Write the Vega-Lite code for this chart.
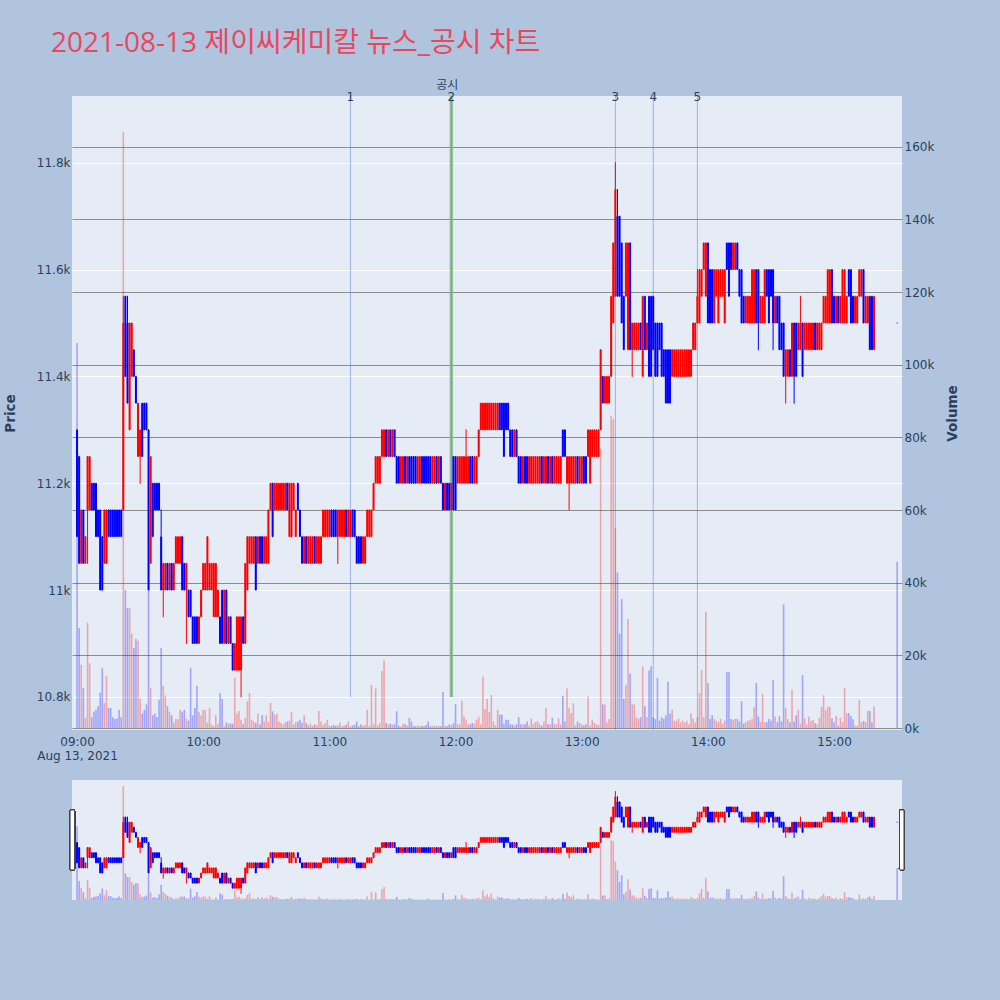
{
"$schema":"https://vega.github.io/schema/vega-lite/v6.json",
"background":"#B0C4DE",
"padding":{"left":3,"top":30,"right":45,"bottom":100},
"title":{"text":"2021-08-13 제이씨케미칼 뉴스_공시 차트","anchor":"start","frame":"group","font":"Open Sans, Noto Sans CJK KR","fontSize":28,"fontWeight":"normal","color":"#E8485E","offset":21,"dx":-21},
"config":{"view":{"fill":"#E5ECF6","stroke":null},"axis":{"labelFont":"DejaVu Sans","labelFontSize":12,"labelColor":"#2a3f5f","titleFont":"DejaVu Sans","titleFontSize":13.5,"titleFontWeight":"bold","titleColor":"#2a3f5f","domain":false,"ticks":false}},
"data":{"format":{"parse":{"t":"date:'%H:%M'"}},"values":[
{"t":"09:00","o":11300,"h":11300,"l":11100,"c":11100,"v":106000},
{"t":"09:01","o":11250,"h":11250,"l":11050,"c":11050,"v":27500},
{"t":"09:02","o":11050,"h":11150,"l":11050,"c":11150,"v":17400},
{"t":"09:03","o":11150,"h":11150,"l":11050,"c":11050,"v":11000},
{"t":"09:04","o":11050,"h":11100,"l":11050,"c":11100,"v":2800},
{"t":"09:05","o":11150,"h":11250,"l":11050,"c":11250,"v":29000},
{"t":"09:06","o":11150,"h":11250,"l":11150,"c":11250,"v":17800},
{"t":"09:07","o":11200,"h":11200,"l":11150,"c":11150,"v":3000},
{"t":"09:08","o":11200,"h":11200,"l":11150,"c":11150,"v":4500},
{"t":"09:09","o":11200,"h":11200,"l":11100,"c":11100,"v":5000},
{"t":"09:10","o":11150,"h":11150,"l":11100,"c":11100,"v":6000},
{"t":"09:11","o":11150,"h":11150,"l":11000,"c":11000,"v":9700},
{"t":"09:12","o":11100,"h":11100,"l":11000,"c":11000,"v":16500},
{"t":"09:13","o":11050,"h":11150,"l":11050,"c":11150,"v":6900},
{"t":"09:14","o":11050,"h":11150,"l":11050,"c":11150,"v":14300},
{"t":"09:15","o":11150,"h":11150,"l":11100,"c":11100,"v":5500},
{"t":"09:16","o":11150,"h":11150,"l":11100,"c":11100,"v":5500},
{"t":"09:17","o":11150,"h":11150,"l":11100,"c":11100,"v":3000},
{"t":"09:18","o":11150,"h":11150,"l":11100,"c":11100,"v":2500},
{"t":"09:19","o":11150,"h":11150,"l":11100,"c":11100,"v":2700},
{"t":"09:20","o":11150,"h":11150,"l":11100,"c":11100,"v":5000},
{"t":"09:21","o":11150,"h":11150,"l":11100,"c":11100,"v":3000},
{"t":"09:22","o":11150,"h":11550,"l":11150,"c":11500,"v":164000},
{"t":"09:23","o":11550,"h":11550,"l":11400,"c":11400,"v":38000},
{"t":"09:24","o":11500,"h":11550,"l":11350,"c":11350,"v":33000},
{"t":"09:25","o":11300,"h":11500,"l":11300,"c":11500,"v":33000},
{"t":"09:26","o":11400,"h":11500,"l":11400,"c":11500,"v":26000},
{"t":"09:27","o":11450,"h":11450,"l":11400,"c":11400,"v":22000},
{"t":"09:28","o":11400,"h":11400,"l":11350,"c":11350,"v":24500},
{"t":"09:29","o":11250,"h":11350,"l":11250,"c":11350,"v":24000},
{"t":"09:30","o":11250,"h":11300,"l":11200,"c":11300,"v":8000},
{"t":"09:31","o":11350,"h":11350,"l":11250,"c":11250,"v":4000},
{"t":"09:32","o":11350,"h":11350,"l":11300,"c":11300,"v":5000},
{"t":"09:33","o":11350,"h":11350,"l":11300,"c":11300,"v":6500},
{"t":"09:34","o":11300,"h":11300,"l":11000,"c":11000,"v":38000},
{"t":"09:35","o":11050,"h":11250,"l":11050,"c":11250,"v":11000},
{"t":"09:36","o":11200,"h":11200,"l":11100,"c":11100,"v":3500},
{"t":"09:37","o":11200,"h":11200,"l":11150,"c":11150,"v":4000},
{"t":"09:38","o":11200,"h":11200,"l":11150,"c":11150,"v":3000},
{"t":"09:39","o":11200,"h":11200,"l":11150,"c":11150,"v":7800},
{"t":"09:40","o":11100,"h":11150,"l":11000,"c":11000,"v":22000},
{"t":"09:41","o":11000,"h":11050,"l":10950,"c":11050,"v":11600},
{"t":"09:42","o":11000,"h":11050,"l":11000,"c":11050,"v":9000},
{"t":"09:43","o":11050,"h":11050,"l":11000,"c":11000,"v":6000},
{"t":"09:44","o":11000,"h":11050,"l":11000,"c":11050,"v":4500},
{"t":"09:45","o":11050,"h":11050,"l":11000,"c":11000,"v":3500},
{"t":"09:46","o":11000,"h":11050,"l":11000,"c":11050,"v":1500},
{"t":"09:47","o":11050,"h":11100,"l":11050,"c":11100,"v":2500},
{"t":"09:48","o":11050,"h":11100,"l":11050,"c":11100,"v":2500},
{"t":"09:49","o":11050,"h":11100,"l":11050,"c":11100,"v":5000},
{"t":"09:50","o":11100,"h":11100,"l":11000,"c":11000,"v":4500},
{"t":"09:51","o":11050,"h":11050,"l":11000,"c":11000,"v":5000},
{"t":"09:52","o":11000,"h":11050,"l":10900,"c":11050,"v":2500},
{"t":"09:53","o":11000,"h":11000,"l":10950,"c":10950,"v":2000},
{"t":"09:54","o":11000,"h":11000,"l":10950,"c":10950,"v":16500},
{"t":"09:55","o":10950,"h":10950,"l":10900,"c":10900,"v":3500},
{"t":"09:56","o":10950,"h":10950,"l":10900,"c":10900,"v":5500},
{"t":"09:57","o":10950,"h":10950,"l":10900,"c":10900,"v":11600},
{"t":"09:58","o":10900,"h":10950,"l":10900,"c":10950,"v":4500},
{"t":"09:59","o":10950,"h":11000,"l":10950,"c":11000,"v":3500},
{"t":"10:00","o":11000,"h":11050,"l":11000,"c":11050,"v":5000},
{"t":"10:01","o":11000,"h":11050,"l":11000,"c":11050,"v":5000},
{"t":"10:02","o":11000,"h":11100,"l":11000,"c":11100,"v":1500},
{"t":"10:03","o":11000,"h":11050,"l":11000,"c":11050,"v":5500},
{"t":"10:04","o":11000,"h":11050,"l":11000,"c":11050,"v":1000},
{"t":"10:05","o":10950,"h":11050,"l":10950,"c":11050,"v":500},
{"t":"10:06","o":10950,"h":11050,"l":10950,"c":11050,"v":3500},
{"t":"10:07","o":10950,"h":11000,"l":10950,"c":11000,"v":1000},
{"t":"10:08","o":10950,"h":10950,"l":10900,"c":10900,"v":9600},
{"t":"10:09","o":11000,"h":11000,"l":10900,"c":10900,"v":8000},
{"t":"10:10","o":10900,"h":11000,"l":10900,"c":11000,"v":500},
{"t":"10:11","o":11000,"h":11000,"l":10900,"c":10900,"v":1500},
{"t":"10:12","o":10900,"h":10950,"l":10900,"c":10950,"v":1200},
{"t":"10:13","o":10950,"h":10950,"l":10900,"c":10900,"v":1200},
{"t":"10:14","o":10900,"h":10900,"l":10850,"c":10850,"v":1200},
{"t":"10:15","o":10850,"h":10900,"l":10850,"c":10900,"v":13800},
{"t":"10:16","o":10850,"h":10950,"l":10850,"c":10950,"v":4000},
{"t":"10:17","o":10850,"h":10950,"l":10850,"c":10950,"v":4700},
{"t":"10:18","o":10850,"h":10950,"l":10800,"c":10950,"v":2300},
{"t":"10:19","o":10950,"h":10950,"l":10900,"c":10900,"v":1000},
{"t":"10:20","o":10900,"h":11050,"l":10900,"c":11050,"v":2800},
{"t":"10:21","o":11000,"h":11100,"l":11000,"c":11100,"v":7300},
{"t":"10:22","o":11050,"h":11100,"l":11050,"c":11100,"v":9600},
{"t":"10:23","o":11050,"h":11100,"l":11050,"c":11100,"v":2300},
{"t":"10:24","o":11050,"h":11100,"l":11050,"c":11100,"v":1800},
{"t":"10:25","o":11100,"h":11100,"l":11000,"c":11000,"v":1400},
{"t":"10:26","o":11050,"h":11100,"l":11050,"c":11100,"v":3900},
{"t":"10:27","o":11100,"h":11100,"l":11050,"c":11050,"v":1000},
{"t":"10:28","o":11100,"h":11100,"l":11050,"c":11050,"v":3500},
{"t":"10:29","o":11050,"h":11100,"l":11050,"c":11100,"v":1800},
{"t":"10:30","o":11050,"h":11100,"l":11050,"c":11100,"v":3500},
{"t":"10:31","o":11050,"h":11150,"l":11050,"c":11150,"v":1600},
{"t":"10:32","o":11150,"h":11200,"l":11150,"c":11200,"v":6900},
{"t":"10:33","o":11200,"h":11200,"l":11100,"c":11100,"v":4600},
{"t":"10:34","o":11150,"h":11200,"l":11150,"c":11200,"v":3700},
{"t":"10:35","o":11150,"h":11200,"l":11150,"c":11200,"v":3900},
{"t":"10:36","o":11150,"h":11200,"l":11150,"c":11200,"v":1800},
{"t":"10:37","o":11150,"h":11200,"l":11150,"c":11200,"v":1400},
{"t":"10:38","o":11150,"h":11200,"l":11150,"c":11200,"v":1000},
{"t":"10:39","o":11150,"h":11200,"l":11150,"c":11200,"v":1600},
{"t":"10:40","o":11200,"h":11200,"l":11150,"c":11150,"v":1800},
{"t":"10:41","o":11100,"h":11200,"l":11100,"c":11200,"v":2000},
{"t":"10:42","o":11100,"h":11200,"l":11100,"c":11200,"v":4400},
{"t":"10:43","o":11150,"h":11200,"l":11150,"c":11200,"v":1000},
{"t":"10:44","o":11100,"h":11150,"l":11100,"c":11150,"v":1600},
{"t":"10:45","o":11200,"h":11200,"l":11150,"c":11150,"v":1800},
{"t":"10:46","o":11150,"h":11150,"l":11100,"c":11100,"v":2300},
{"t":"10:47","o":11100,"h":11100,"l":11050,"c":11050,"v":1400},
{"t":"10:48","o":11050,"h":11100,"l":11050,"c":11100,"v":3500},
{"t":"10:49","o":11100,"h":11100,"l":11050,"c":11050,"v":1400},
{"t":"10:50","o":11050,"h":11100,"l":11050,"c":11100,"v":800},
{"t":"10:51","o":11050,"h":11100,"l":11050,"c":11100,"v":1200},
{"t":"10:52","o":11050,"h":11100,"l":11050,"c":11100,"v":600},
{"t":"10:53","o":11100,"h":11100,"l":11050,"c":11050,"v":1000},
{"t":"10:54","o":11050,"h":11100,"l":11050,"c":11100,"v":700},
{"t":"10:55","o":11050,"h":11100,"l":11050,"c":11100,"v":4700},
{"t":"10:56","o":11050,"h":11100,"l":11050,"c":11100,"v":1800},
{"t":"10:57","o":11100,"h":11150,"l":11100,"c":11150,"v":900},
{"t":"10:58","o":11100,"h":11150,"l":11100,"c":11150,"v":1300},
{"t":"10:59","o":11100,"h":11150,"l":11100,"c":11150,"v":2300},
{"t":"11:00","o":11100,"h":11150,"l":11100,"c":11150,"v":700},
{"t":"11:01","o":11150,"h":11150,"l":11100,"c":11100,"v":500},
{"t":"11:02","o":11150,"h":11150,"l":11100,"c":11100,"v":900},
{"t":"11:03","o":11150,"h":11150,"l":11100,"c":11100,"v":600},
{"t":"11:04","o":11100,"h":11150,"l":11050,"c":11150,"v":800},
{"t":"11:05","o":11100,"h":11150,"l":11100,"c":11150,"v":1500},
{"t":"11:06","o":11100,"h":11150,"l":11100,"c":11150,"v":500},
{"t":"11:07","o":11100,"h":11150,"l":11100,"c":11150,"v":700},
{"t":"11:08","o":11150,"h":11150,"l":11100,"c":11100,"v":900},
{"t":"11:09","o":11100,"h":11150,"l":11100,"c":11150,"v":1800},
{"t":"11:10","o":11100,"h":11150,"l":11100,"c":11150,"v":500},
{"t":"11:11","o":11150,"h":11150,"l":11100,"c":11100,"v":700},
{"t":"11:12","o":11150,"h":11150,"l":11100,"c":11100,"v":900},
{"t":"11:13","o":11100,"h":11100,"l":11050,"c":11050,"v":1800},
{"t":"11:14","o":11100,"h":11100,"l":11050,"c":11050,"v":500},
{"t":"11:15","o":11100,"h":11100,"l":11050,"c":11050,"v":1000},
{"t":"11:16","o":11050,"h":11100,"l":11050,"c":11100,"v":600},
{"t":"11:17","o":11050,"h":11100,"l":11050,"c":11100,"v":800},
{"t":"11:18","o":11100,"h":11150,"l":11100,"c":11150,"v":5000},
{"t":"11:19","o":11100,"h":11150,"l":11100,"c":11150,"v":600},
{"t":"11:20","o":11100,"h":11150,"l":11100,"c":11150,"v":11800},
{"t":"11:21","o":11150,"h":11200,"l":11150,"c":11200,"v":1000},
{"t":"11:22","o":11200,"h":11250,"l":11200,"c":11250,"v":10900},
{"t":"11:23","o":11200,"h":11250,"l":11200,"c":11250,"v":700},
{"t":"11:24","o":11200,"h":11250,"l":11200,"c":11250,"v":1300},
{"t":"11:25","o":11250,"h":11300,"l":11250,"c":11300,"v":15700},
{"t":"11:26","o":11250,"h":11300,"l":11250,"c":11300,"v":18600},
{"t":"11:27","o":11300,"h":11300,"l":11250,"c":11250,"v":1400},
{"t":"11:28","o":11250,"h":11300,"l":11250,"c":11300,"v":1000},
{"t":"11:29","o":11300,"h":11300,"l":11250,"c":11250,"v":1200},
{"t":"11:30","o":11250,"h":11300,"l":11250,"c":11300,"v":1000},
{"t":"11:31","o":11300,"h":11300,"l":11250,"c":11250,"v":1000},
{"t":"11:32","o":11250,"h":11250,"l":11200,"c":11200,"v":4600},
{"t":"11:33","o":11250,"h":11250,"l":11200,"c":11200,"v":600},
{"t":"11:34","o":11200,"h":11250,"l":11200,"c":11250,"v":500},
{"t":"11:35","o":11200,"h":11250,"l":11200,"c":11250,"v":1200},
{"t":"11:36","o":11250,"h":11250,"l":11200,"c":11200,"v":1000},
{"t":"11:37","o":11200,"h":11250,"l":11200,"c":11250,"v":700},
{"t":"11:38","o":11250,"h":11250,"l":11200,"c":11200,"v":2800},
{"t":"11:39","o":11250,"h":11250,"l":11200,"c":11200,"v":1800},
{"t":"11:40","o":11250,"h":11250,"l":11200,"c":11200,"v":600},
{"t":"11:41","o":11250,"h":11250,"l":11200,"c":11200,"v":500},
{"t":"11:42","o":11200,"h":11250,"l":11200,"c":11250,"v":700},
{"t":"11:43","o":11200,"h":11250,"l":11200,"c":11250,"v":500},
{"t":"11:44","o":11250,"h":11250,"l":11200,"c":11200,"v":600},
{"t":"11:45","o":11250,"h":11250,"l":11200,"c":11200,"v":500},
{"t":"11:46","o":11250,"h":11250,"l":11200,"c":11200,"v":800},
{"t":"11:47","o":11250,"h":11250,"l":11200,"c":11200,"v":1800},
{"t":"11:48","o":11250,"h":11250,"l":11200,"c":11200,"v":500},
{"t":"11:49","o":11200,"h":11250,"l":11200,"c":11250,"v":600},
{"t":"11:50","o":11200,"h":11250,"l":11200,"c":11250,"v":700},
{"t":"11:51","o":11250,"h":11250,"l":11200,"c":11200,"v":500},
{"t":"11:52","o":11200,"h":11250,"l":11200,"c":11250,"v":600},
{"t":"11:53","o":11250,"h":11250,"l":11200,"c":11200,"v":500},
{"t":"11:54","o":11200,"h":11200,"l":11150,"c":11150,"v":9900},
{"t":"11:55","o":11150,"h":11200,"l":11150,"c":11200,"v":600},
{"t":"11:56","o":11200,"h":11200,"l":11150,"c":11150,"v":500},
{"t":"11:57","o":11200,"h":11200,"l":11150,"c":11150,"v":1000},
{"t":"11:58","o":11150,"h":11200,"l":11150,"c":11200,"v":800},
{"t":"11:59","o":11250,"h":11250,"l":11150,"c":11150,"v":1400},
{"t":"12:00","o":11250,"h":11250,"l":11150,"c":11150,"v":6600},
{"t":"12:01","o":11200,"h":11250,"l":11200,"c":11250,"v":1000},
{"t":"12:02","o":11200,"h":11250,"l":11200,"c":11250,"v":1000},
{"t":"12:03","o":11200,"h":11250,"l":11200,"c":11250,"v":7500},
{"t":"12:04","o":11200,"h":11250,"l":11200,"c":11250,"v":3200},
{"t":"12:05","o":11200,"h":11300,"l":11200,"c":11250,"v":2300},
{"t":"12:06","o":11200,"h":11250,"l":11200,"c":11250,"v":1000},
{"t":"12:07","o":11250,"h":11250,"l":11200,"c":11200,"v":1000},
{"t":"12:08","o":11250,"h":11250,"l":11200,"c":11200,"v":1400},
{"t":"12:09","o":11200,"h":11250,"l":11200,"c":11250,"v":1100},
{"t":"12:10","o":11200,"h":11250,"l":11200,"c":11250,"v":2300},
{"t":"12:11","o":11250,"h":11300,"l":11250,"c":11300,"v":3100},
{"t":"12:12","o":11300,"h":11350,"l":11300,"c":11350,"v":1000},
{"t":"12:13","o":11300,"h":11350,"l":11300,"c":11350,"v":14200},
{"t":"12:14","o":11300,"h":11350,"l":11300,"c":11350,"v":5200},
{"t":"12:15","o":11300,"h":11350,"l":11300,"c":11350,"v":8000},
{"t":"12:16","o":11300,"h":11350,"l":11300,"c":11350,"v":4500},
{"t":"12:17","o":11300,"h":11350,"l":11300,"c":11350,"v":9100},
{"t":"12:18","o":11300,"h":11350,"l":11300,"c":11350,"v":1800},
{"t":"12:19","o":11300,"h":11350,"l":11300,"c":11350,"v":800},
{"t":"12:20","o":11300,"h":11350,"l":11300,"c":11350,"v":5000},
{"t":"12:21","o":11350,"h":11350,"l":11300,"c":11300,"v":3700},
{"t":"12:22","o":11350,"h":11350,"l":11300,"c":11300,"v":3700},
{"t":"12:23","o":11350,"h":11350,"l":11250,"c":11250,"v":1200},
{"t":"12:24","o":11350,"h":11350,"l":11300,"c":11300,"v":2300},
{"t":"12:25","o":11350,"h":11350,"l":11300,"c":11300,"v":2300},
{"t":"12:26","o":11300,"h":11300,"l":11250,"c":11250,"v":1000},
{"t":"12:27","o":11300,"h":11300,"l":11250,"c":11250,"v":1000},
{"t":"12:28","o":11250,"h":11300,"l":11250,"c":11300,"v":700},
{"t":"12:29","o":11300,"h":11300,"l":11250,"c":11250,"v":1000},
{"t":"12:30","o":11250,"h":11250,"l":11200,"c":11200,"v":3000},
{"t":"12:31","o":11250,"h":11250,"l":11200,"c":11200,"v":1000},
{"t":"12:32","o":11200,"h":11250,"l":11200,"c":11250,"v":1000},
{"t":"12:33","o":11250,"h":11250,"l":11200,"c":11200,"v":1000},
{"t":"12:34","o":11250,"h":11250,"l":11200,"c":11200,"v":1800},
{"t":"12:35","o":11200,"h":11250,"l":11200,"c":11250,"v":700},
{"t":"12:36","o":11200,"h":11250,"l":11200,"c":11250,"v":2600},
{"t":"12:37","o":11200,"h":11250,"l":11200,"c":11250,"v":1100},
{"t":"12:38","o":11200,"h":11250,"l":11200,"c":11250,"v":1600},
{"t":"12:39","o":11200,"h":11250,"l":11200,"c":11250,"v":1800},
{"t":"12:40","o":11200,"h":11250,"l":11200,"c":11250,"v":1000},
{"t":"12:41","o":11250,"h":11250,"l":11200,"c":11200,"v":600},
{"t":"12:42","o":11200,"h":11250,"l":11200,"c":11250,"v":1800},
{"t":"12:43","o":11200,"h":11250,"l":11200,"c":11250,"v":5500},
{"t":"12:44","o":11250,"h":11250,"l":11200,"c":11200,"v":1000},
{"t":"12:45","o":11200,"h":11250,"l":11200,"c":11250,"v":1000},
{"t":"12:46","o":11250,"h":11250,"l":11200,"c":11200,"v":2800},
{"t":"12:47","o":11200,"h":11250,"l":11200,"c":11250,"v":1000},
{"t":"12:48","o":11200,"h":11250,"l":11200,"c":11250,"v":1000},
{"t":"12:49","o":11200,"h":11250,"l":11200,"c":11250,"v":2600},
{"t":"12:50","o":11200,"h":11250,"l":11200,"c":11250,"v":1000},
{"t":"12:51","o":11300,"h":11300,"l":11250,"c":11250,"v":8800},
{"t":"12:52","o":11300,"h":11300,"l":11250,"c":11250,"v":1800},
{"t":"12:53","o":11200,"h":11250,"l":11200,"c":11250,"v":10900},
{"t":"12:54","o":11200,"h":11250,"l":11150,"c":11250,"v":5600},
{"t":"12:55","o":11200,"h":11250,"l":11200,"c":11250,"v":4100},
{"t":"12:56","o":11200,"h":11250,"l":11200,"c":11250,"v":6800},
{"t":"12:57","o":11200,"h":11250,"l":11200,"c":11250,"v":700},
{"t":"12:58","o":11250,"h":11250,"l":11200,"c":11200,"v":1800},
{"t":"12:59","o":11200,"h":11250,"l":11200,"c":11250,"v":1400},
{"t":"13:00","o":11200,"h":11250,"l":11200,"c":11250,"v":1000},
{"t":"13:01","o":11250,"h":11250,"l":11200,"c":11200,"v":700},
{"t":"13:02","o":11250,"h":11250,"l":11200,"c":11200,"v":1000},
{"t":"13:03","o":11250,"h":11300,"l":11250,"c":11300,"v":8700},
{"t":"13:04","o":11200,"h":11300,"l":11200,"c":11300,"v":600},
{"t":"13:05","o":11250,"h":11300,"l":11250,"c":11300,"v":2300},
{"t":"13:06","o":11250,"h":11300,"l":11250,"c":11300,"v":1400},
{"t":"13:07","o":11250,"h":11300,"l":11250,"c":11300,"v":1000},
{"t":"13:08","o":11250,"h":11300,"l":11250,"c":11300,"v":800},
{"t":"13:09","o":11300,"h":11450,"l":11300,"c":11450,"v":77000},
{"t":"13:10","o":11400,"h":11400,"l":11350,"c":11350,"v":6500},
{"t":"13:11","o":11350,"h":11400,"l":11350,"c":11400,"v":6500},
{"t":"13:12","o":11350,"h":11400,"l":11350,"c":11400,"v":1600},
{"t":"13:13","o":11350,"h":11400,"l":11350,"c":11400,"v":2500},
{"t":"13:14","o":11400,"h":11550,"l":11400,"c":11550,"v":86000},
{"t":"13:15","o":11500,"h":11650,"l":11500,"c":11650,"v":85000},
{"t":"13:16","o":11550,"h":11800,"l":11550,"c":11750,"v":55000},
{"t":"13:17","o":11700,"h":11750,"l":11550,"c":11550,"v":42800},
{"t":"13:18","o":11700,"h":11700,"l":11550,"c":11550,"v":26000},
{"t":"13:19","o":11650,"h":11650,"l":11500,"c":11500,"v":35500},
{"t":"13:20","o":11550,"h":11550,"l":11450,"c":11450,"v":8000},
{"t":"13:21","o":11550,"h":11650,"l":11550,"c":11650,"v":11800},
{"t":"13:22","o":11450,"h":11650,"l":11450,"c":11650,"v":30000},
{"t":"13:23","o":11650,"h":11650,"l":11450,"c":11450,"v":15000},
{"t":"13:24","o":11450,"h":11500,"l":11400,"c":11500,"v":6500},
{"t":"13:25","o":11450,"h":11500,"l":11450,"c":11500,"v":6500},
{"t":"13:26","o":11450,"h":11500,"l":11450,"c":11500,"v":3000},
{"t":"13:27","o":11450,"h":11500,"l":11450,"c":11500,"v":2500},
{"t":"13:28","o":11500,"h":11500,"l":11450,"c":11450,"v":3000},
{"t":"13:29","o":11400,"h":11550,"l":11400,"c":11550,"v":17000},
{"t":"13:30","o":11550,"h":11550,"l":11450,"c":11450,"v":6000},
{"t":"13:31","o":11450,"h":11500,"l":11450,"c":11500,"v":3000},
{"t":"13:32","o":11550,"h":11550,"l":11400,"c":11400,"v":15800},
{"t":"13:33","o":11550,"h":11550,"l":11400,"c":11400,"v":17000},
{"t":"13:34","o":11550,"h":11550,"l":11450,"c":11450,"v":3000},
{"t":"13:35","o":11500,"h":11500,"l":11400,"c":11400,"v":2500},
{"t":"13:36","o":11500,"h":11500,"l":11400,"c":11400,"v":13800},
{"t":"13:37","o":11500,"h":11500,"l":11450,"c":11450,"v":2000},
{"t":"13:38","o":11500,"h":11500,"l":11400,"c":11400,"v":3000},
{"t":"13:39","o":11450,"h":11450,"l":11400,"c":11400,"v":2500},
{"t":"13:40","o":11450,"h":11450,"l":11350,"c":11350,"v":3500},
{"t":"13:41","o":11450,"h":11450,"l":11350,"c":11350,"v":12700},
{"t":"13:42","o":11450,"h":11450,"l":11350,"c":11350,"v":4000},
{"t":"13:43","o":11400,"h":11450,"l":11400,"c":11450,"v":5000},
{"t":"13:44","o":11400,"h":11450,"l":11400,"c":11450,"v":2000},
{"t":"13:45","o":11400,"h":11450,"l":11400,"c":11450,"v":2000},
{"t":"13:46","o":11400,"h":11450,"l":11400,"c":11450,"v":2500},
{"t":"13:47","o":11400,"h":11450,"l":11400,"c":11450,"v":1500},
{"t":"13:48","o":11400,"h":11450,"l":11400,"c":11450,"v":2000},
{"t":"13:49","o":11400,"h":11450,"l":11400,"c":11450,"v":1500},
{"t":"13:50","o":11400,"h":11450,"l":11400,"c":11450,"v":2000},
{"t":"13:51","o":11400,"h":11450,"l":11400,"c":11450,"v":1000},
{"t":"13:52","o":11400,"h":11450,"l":11400,"c":11450,"v":4000},
{"t":"13:53","o":11450,"h":11500,"l":11450,"c":11500,"v":2500},
{"t":"13:54","o":11450,"h":11500,"l":11450,"c":11500,"v":1500},
{"t":"13:55","o":11500,"h":11600,"l":11500,"c":11550,"v":3000},
{"t":"13:56","o":11500,"h":11600,"l":11500,"c":11600,"v":9600},
{"t":"13:57","o":11550,"h":11600,"l":11550,"c":11600,"v":16000},
{"t":"13:58","o":11600,"h":11650,"l":11600,"c":11650,"v":3000},
{"t":"13:59","o":11550,"h":11650,"l":11550,"c":11650,"v":32000},
{"t":"14:00","o":11650,"h":11650,"l":11500,"c":11500,"v":12400},
{"t":"14:01","o":11600,"h":11600,"l":11500,"c":11500,"v":2500},
{"t":"14:02","o":11600,"h":11600,"l":11500,"c":11500,"v":3500},
{"t":"14:03","o":11500,"h":11600,"l":11500,"c":11600,"v":2500},
{"t":"14:04","o":11550,"h":11600,"l":11550,"c":11600,"v":2000},
{"t":"14:05","o":11500,"h":11600,"l":11500,"c":11600,"v":1700},
{"t":"14:06","o":11550,"h":11600,"l":11550,"c":11600,"v":2500},
{"t":"14:07","o":11550,"h":11600,"l":11550,"c":11600,"v":1200},
{"t":"14:08","o":11500,"h":11600,"l":11500,"c":11600,"v":2100},
{"t":"14:09","o":11650,"h":11650,"l":11600,"c":11600,"v":15500},
{"t":"14:10","o":11650,"h":11650,"l":11550,"c":11550,"v":15500},
{"t":"14:11","o":11650,"h":11650,"l":11600,"c":11600,"v":2500},
{"t":"14:12","o":11600,"h":11650,"l":11600,"c":11650,"v":2300},
{"t":"14:13","o":11600,"h":11650,"l":11600,"c":11650,"v":2500},
{"t":"14:14","o":11650,"h":11650,"l":11600,"c":11600,"v":2500},
{"t":"14:15","o":11600,"h":11600,"l":11550,"c":11550,"v":1800},
{"t":"14:16","o":11600,"h":11600,"l":11500,"c":11500,"v":7400},
{"t":"14:17","o":11550,"h":11550,"l":11500,"c":11500,"v":1200},
{"t":"14:18","o":11500,"h":11550,"l":11500,"c":11550,"v":1600},
{"t":"14:19","o":11500,"h":11550,"l":11500,"c":11550,"v":2000},
{"t":"14:20","o":11500,"h":11550,"l":11500,"c":11550,"v":2100},
{"t":"14:21","o":11500,"h":11600,"l":11500,"c":11600,"v":2500},
{"t":"14:22","o":11500,"h":11600,"l":11500,"c":11600,"v":5700},
{"t":"14:23","o":11600,"h":11600,"l":11500,"c":11500,"v":12400},
{"t":"14:24","o":11600,"h":11600,"l":11450,"c":11500,"v":3200},
{"t":"14:25","o":11500,"h":11550,"l":11500,"c":11550,"v":1600},
{"t":"14:26","o":11500,"h":11550,"l":11500,"c":11550,"v":9400},
{"t":"14:27","o":11500,"h":11600,"l":11500,"c":11600,"v":1600},
{"t":"14:28","o":11600,"h":11600,"l":11550,"c":11550,"v":1600},
{"t":"14:29","o":11600,"h":11600,"l":11500,"c":11500,"v":2500},
{"t":"14:30","o":11600,"h":11600,"l":11550,"c":11550,"v":2000},
{"t":"14:31","o":11600,"h":11600,"l":11450,"c":11500,"v":13200},
{"t":"14:32","o":11500,"h":11550,"l":11500,"c":11550,"v":3200},
{"t":"14:33","o":11550,"h":11550,"l":11500,"c":11500,"v":1600},
{"t":"14:34","o":11550,"h":11550,"l":11450,"c":11450,"v":3200},
{"t":"14:35","o":11500,"h":11500,"l":11450,"c":11450,"v":1800},
{"t":"14:36","o":11500,"h":11500,"l":11400,"c":11400,"v":34000},
{"t":"14:37","o":11400,"h":11450,"l":11350,"c":11450,"v":5500},
{"t":"14:38","o":11400,"h":11450,"l":11400,"c":11450,"v":2500},
{"t":"14:39","o":11450,"h":11450,"l":11400,"c":11400,"v":1600},
{"t":"14:40","o":11400,"h":11500,"l":11400,"c":11500,"v":10500},
{"t":"14:41","o":11500,"h":11500,"l":11350,"c":11400,"v":1800},
{"t":"14:42","o":11500,"h":11500,"l":11400,"c":11400,"v":3500},
{"t":"14:43","o":11450,"h":11500,"l":11450,"c":11500,"v":5000},
{"t":"14:44","o":11450,"h":11550,"l":11450,"c":11500,"v":1200},
{"t":"14:45","o":11500,"h":11500,"l":11400,"c":11400,"v":14600},
{"t":"14:46","o":11450,"h":11500,"l":11450,"c":11500,"v":2600},
{"t":"14:47","o":11450,"h":11500,"l":11450,"c":11500,"v":1000},
{"t":"14:48","o":11450,"h":11500,"l":11450,"c":11500,"v":3100},
{"t":"14:49","o":11450,"h":11500,"l":11450,"c":11500,"v":1900},
{"t":"14:50","o":11450,"h":11500,"l":11450,"c":11500,"v":2200},
{"t":"14:51","o":11500,"h":11500,"l":11450,"c":11450,"v":1300},
{"t":"14:52","o":11450,"h":11500,"l":11450,"c":11500,"v":1000},
{"t":"14:53","o":11450,"h":11500,"l":11450,"c":11500,"v":2800},
{"t":"14:54","o":11450,"h":11500,"l":11450,"c":11500,"v":5800},
{"t":"14:55","o":11500,"h":11550,"l":11500,"c":11550,"v":9000},
{"t":"14:56","o":11500,"h":11550,"l":11500,"c":11550,"v":4900},
{"t":"14:57","o":11500,"h":11600,"l":11500,"c":11600,"v":5800},
{"t":"14:58","o":11500,"h":11600,"l":11500,"c":11600,"v":5800},
{"t":"14:59","o":11600,"h":11600,"l":11500,"c":11500,"v":2600},
{"t":"15:00","o":11550,"h":11550,"l":11500,"c":11500,"v":1600},
{"t":"15:01","o":11500,"h":11550,"l":11500,"c":11550,"v":3300},
{"t":"15:02","o":11550,"h":11550,"l":11500,"c":11500,"v":600},
{"t":"15:03","o":11500,"h":11550,"l":11500,"c":11550,"v":2800},
{"t":"15:04","o":11500,"h":11600,"l":11500,"c":11600,"v":1600},
{"t":"15:05","o":11500,"h":11600,"l":11500,"c":11600,"v":11000},
{"t":"15:06","o":11500,"h":11550,"l":11500,"c":11550,"v":4100},
{"t":"15:07","o":11600,"h":11600,"l":11550,"c":11550,"v":4100},
{"t":"15:08","o":11600,"h":11600,"l":11500,"c":11500,"v":3300},
{"t":"15:09","o":11550,"h":11550,"l":11500,"c":11500,"v":2400},
{"t":"15:10","o":11500,"h":11550,"l":11500,"c":11550,"v":600},
{"t":"15:11","o":11500,"h":11550,"l":11500,"c":11550,"v":600},
{"t":"15:12","o":11550,"h":11600,"l":11550,"c":11600,"v":7700},
{"t":"15:13","o":11550,"h":11600,"l":11550,"c":11600,"v":1600},
{"t":"15:14","o":11600,"h":11600,"l":11500,"c":11500,"v":1900},
{"t":"15:15","o":11500,"h":11550,"l":11500,"c":11550,"v":1600},
{"t":"15:16","o":11500,"h":11550,"l":11500,"c":11550,"v":4700},
{"t":"15:17","o":11550,"h":11550,"l":11450,"c":11450,"v":4700},
{"t":"15:18","o":11550,"h":11550,"l":11450,"c":11450,"v":1600},
{"t":"15:19","o":11450,"h":11550,"l":11450,"c":11550,"v":5900},
{"t":"15:30","o":11500,"h":11500,"l":11500,"c":11500,"v":45800}
]},
"spacing":50,
"bounds":"flush",
"resolve":{"scale":{"x":"independent","y":"independent"}},
"vconcat":[
{"width":830,"height":634,
 "layer":[
  {"mark":{"type":"bar","size":1.6,"opacity":0.3},
   "encoding":{
    "x":{"field":"t","type":"temporal","scale":{"nice":false,"padding":0,"domain":[{"year":1900,"month":1,"date":1,"hours":8,"minutes":57,"seconds":36},{"year":1900,"month":1,"date":1,"hours":15,"minutes":32,"seconds":18}]},
      "axis":{"title":null,"grid":false,"labelFlush":false,"labelOverlap":false,"labelPadding":6,"labelLineHeight":14,
        "values":[{"year":1900,"month":1,"date":1,"hours":9},{"year":1900,"month":1,"date":1,"hours":10},{"year":1900,"month":1,"date":1,"hours":11},{"year":1900,"month":1,"date":1,"hours":12},{"year":1900,"month":1,"date":1,"hours":13},{"year":1900,"month":1,"date":1,"hours":14},{"year":1900,"month":1,"date":1,"hours":15}],
        "labelExpr":"hours(datum.value)==9 ? ['09:00','Aug 13, 2021'] : timeFormat(datum.value,'%H:%M')"}},
    "y":{"field":"v","type":"quantitative","scale":{"domain":[-550,174000],"nice":false,"zero":false},
      "axis":{"orient":"right","title":"Volume","titleAngle":270,"titlePadding":26,"values":[0,20000,40000,60000,80000,100000,120000,140000,160000],"format":"~s","grid":true,"gridColor":"#8c8c8c","labelPadding":2}},
    "color":{"condition":{"test":"datum.c > datum.o","value":"#ff0000"},"value":"#0000ff"}}},
  {"layer":[
    {"data":{"values":[{"t":"1900-01-01T11:10:00","n":"1"},{"t":"1900-01-01T11:58:00","n":"2"},{"t":"1900-01-01T13:16:00","n":"3"},{"t":"1900-01-01T13:34:00","n":"4"},{"t":"1900-01-01T13:55:00","n":"5"}]},
     "layer":[
      {"transform":[{"filter":"datum.n=='2'"}],
       "mark":{"type":"rule","color":"#8fbc8f","strokeWidth":3.5,"opacity":0.85},
       "encoding":{"x":{"field":"t","type":"temporal"},"y":{"datum":10800},"y2":{"datum":11925}}},
      {"transform":[{"filter":"datum.n=='1' || datum.n=='2'"}],
       "mark":{"type":"rule","color":"#4169e1","strokeWidth":1,"opacity":0.45},
       "encoding":{"x":{"field":"t","type":"temporal"},"y":{"datum":10800},"y2":{"datum":11925}}},
      {"transform":[{"filter":"datum.n!='1' && datum.n!='2'"}],
       "mark":{"type":"rule","color":"#4169e1","strokeWidth":1,"opacity":0.45},
       "encoding":{"x":{"field":"t","type":"temporal"}}},
      {"mark":{"type":"text","baseline":"middle","dy":1,"font":"DejaVu Sans","fontSize":12,"color":"#2a3f5f"},
       "encoding":{"x":{"field":"t","type":"temporal"},"y":{"datum":11925},"text":{"field":"n"}}},
      {"transform":[{"filter":"datum.n=='2'"}],
       "mark":{"type":"text","baseline":"middle","dy":-11,"dx":-4,"font":"Noto Sans CJK KR","fontSize":12,"color":"#2a3f5f","text":"공시"},
       "encoding":{"x":{"field":"t","type":"temporal"},"y":{"datum":11925}}}
     ]},
    {"mark":{"type":"rule","strokeWidth":1,"strokeCap":"square"},
     "encoding":{
      "x":{"field":"t","type":"temporal"},
      "y":{"field":"l","type":"quantitative","scale":{"domain":[10738,11925],"nice":false,"zero":false},
        "axis":{"orient":"left","title":"Price","titlePadding":19,"values":[10800,11000,11200,11400,11600,11800],"format":"~s","grid":true,"gridColor":"#ffffff","gridWidth":1,"labelPadding":2}},
      "y2":{"field":"h"},
      "color":{"condition":{"test":"datum.c > datum.o","value":"#ff0000"},"value":"#0000ff"}}},
    {"mark":{"type":"bar","size":2},
     "encoding":{
      "x":{"field":"t","type":"temporal"},
      "y":{"field":"o","type":"quantitative"},
      "y2":{"field":"c"},
      "color":{"condition":{"test":"datum.c > datum.o","value":"#ff0000"},"value":"#0000ff"}}}
  ]}
 ],
 "resolve":{"scale":{"y":"independent"}}
},
{"width":830,"height":120,
 "layer":[
  {"mark":{"type":"bar","size":1.6,"opacity":0.3},
   "encoding":{
    "x":{"field":"t","type":"temporal","scale":{"nice":false,"padding":0,"domain":[{"year":1900,"month":1,"date":1,"hours":8,"minutes":57,"seconds":36},{"year":1900,"month":1,"date":1,"hours":15,"minutes":32,"seconds":18}]},"axis":null},
    "y":{"field":"v","type":"quantitative","scale":{"domain":[0,172700],"nice":false,"zero":false},"axis":null},
    "color":{"condition":{"test":"datum.c > datum.o","value":"#ff0000"},"value":"#0000ff"}}},
  {"layer":[
    {"mark":{"type":"rule","strokeWidth":1,"strokeCap":"square"},
     "encoding":{
      "x":{"field":"t","type":"temporal"},
      "y":{"field":"l","type":"quantitative","scale":{"domain":[10734,11915],"nice":false,"zero":false},"axis":null},
      "y2":{"field":"h"},
      "color":{"condition":{"test":"datum.c > datum.o","value":"#ff0000"},"value":"#0000ff"}}},
    {"mark":{"type":"bar","size":2},
     "encoding":{
      "x":{"field":"t","type":"temporal"},
      "y":{"field":"o","type":"quantitative"},
      "y2":{"field":"c"},
      "color":{"condition":{"test":"datum.c > datum.o","value":"#ff0000"},"value":"#0000ff"}}},
    {"mark":{"type":"rect","fill":"#ffffff","stroke":"#444444","strokeWidth":1,"cornerRadius":1,"clip":false},
     "encoding":{
      "x":{"datum":{"year":1900,"month":1,"date":1,"hours":8,"minutes":56,"seconds":41},"type":"temporal"},
      "x2":{"datum":{"year":1900,"month":1,"date":1,"hours":8,"minutes":58,"seconds":50}},
      "y":{"datum":11620},"y2":{"datum":11030}}},
    {"mark":{"type":"rect","fill":"#ffffff","stroke":"#444444","strokeWidth":1,"cornerRadius":1,"clip":false},
     "encoding":{
      "x":{"datum":{"year":1900,"month":1,"date":1,"hours":15,"minutes":31,"seconds":7},"type":"temporal"},
      "x2":{"datum":{"year":1900,"month":1,"date":1,"hours":15,"minutes":33,"seconds":15}},
      "y":{"datum":11620},"y2":{"datum":11030}}}
  ]}
 ],
 "resolve":{"scale":{"y":"independent"}}
}
]
}
